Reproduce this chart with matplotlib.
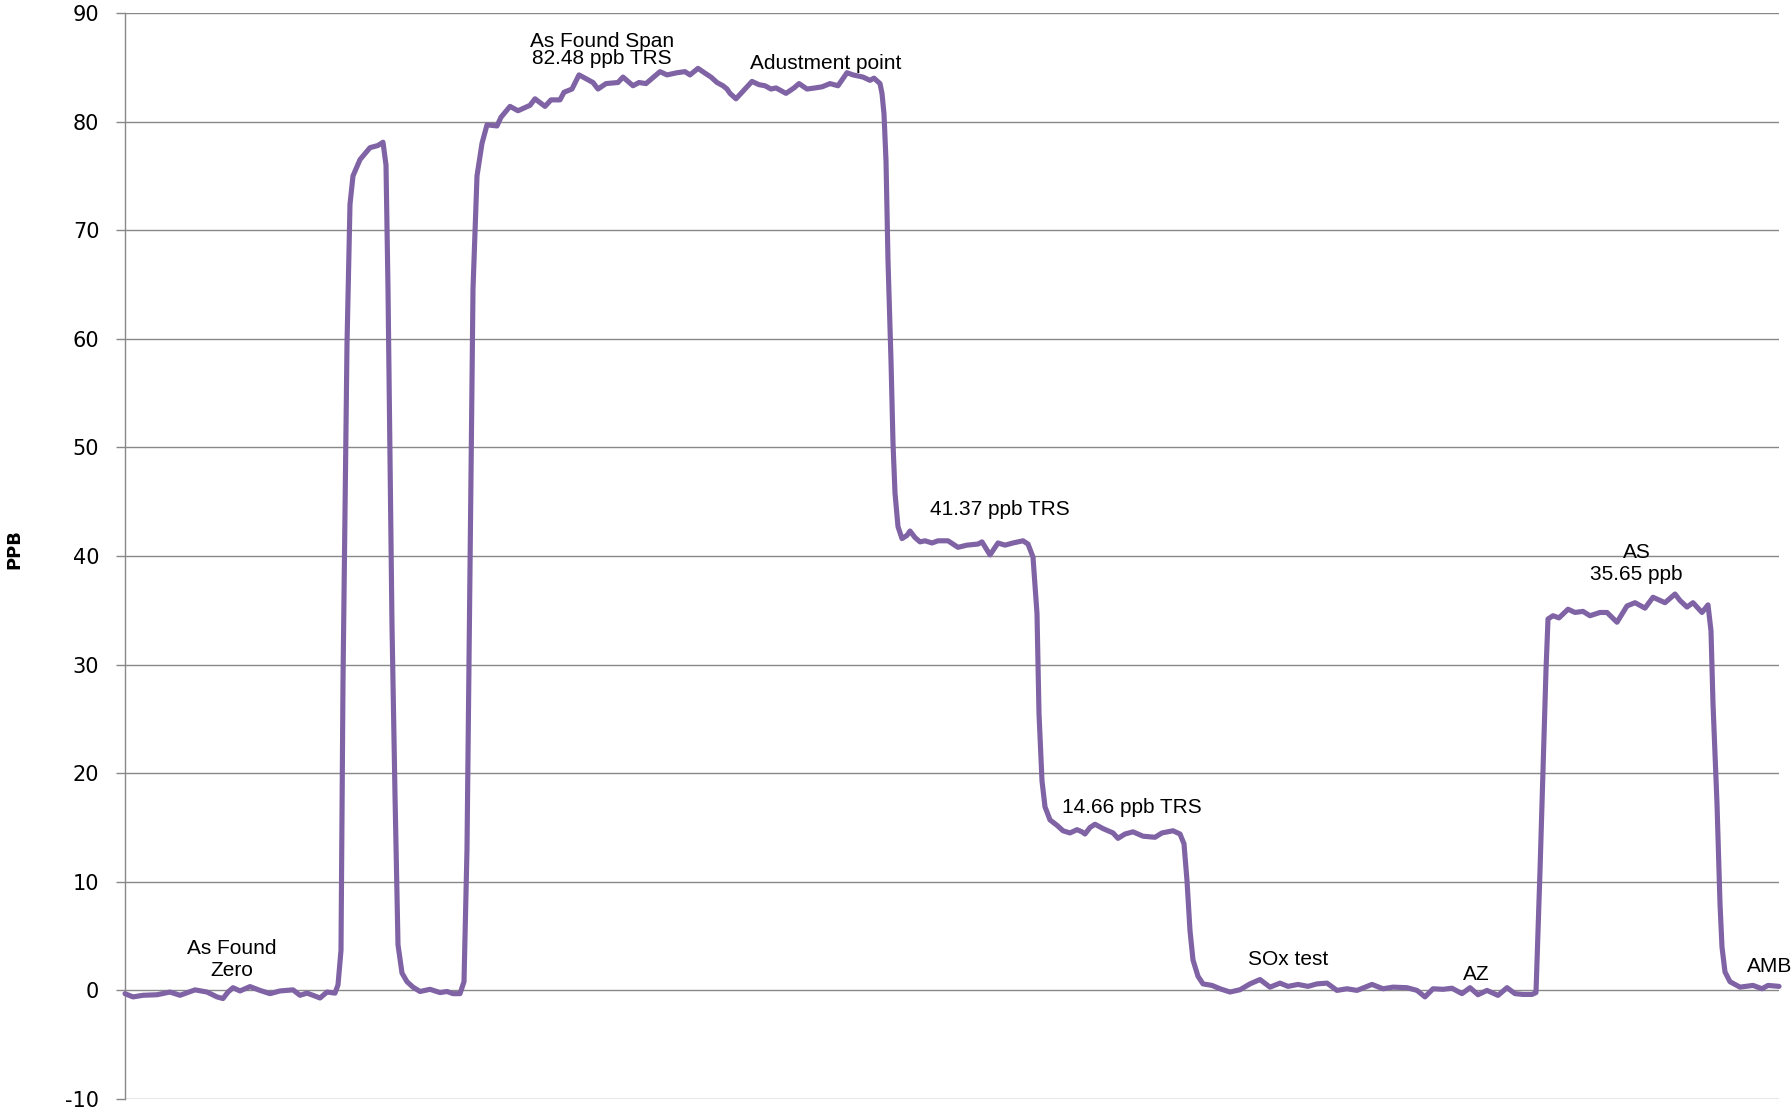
import matplotlib
matplotlib.use("Agg")
import matplotlib.pyplot as plt

plt.rcParams["axes.unicode_minus"] = False

# Time (arbitrary sample units) and concentration (ppb)
t = [0, 8, 18, 32, 45, 55, 70, 82, 92, 98, 103, 108, 115, 125, 135, 145, 155, 168, 175, 182,
     188, 195, 202, 210, 213, 216, 218, 222, 225, 228, 235, 245, 253, 258, 261, 263, 267, 270,
     273, 277, 282, 288, 295, 305, 315, 322, 328, 335, 339, 342, 345, 348, 352, 357, 362, 372,
     376, 385, 393, 405, 410, 420, 426, 435, 439, 447, 454, 460, 468, 473, 481, 493, 498, 508,
     514, 521, 535, 542, 552, 560, 565, 573, 581, 586, 592, 598, 602, 605, 611, 619, 627, 634,
     640, 646, 651, 661, 669, 674, 682, 690, 697, 705, 713, 722, 728, 738, 745, 749, 755, 757,
     759, 761, 763, 766, 768, 770, 773, 777, 782, 785, 790, 795, 800, 807, 813, 823, 833, 842,
     853, 857, 865, 873, 880, 888, 898, 903, 908, 912, 914, 917, 920, 925, 932, 938, 945, 952,
     957, 960, 965, 970, 978, 988, 993, 1000, 1008, 1018, 1030, 1037, 1048, 1055, 1059, 1062,
     1065, 1068, 1073, 1078, 1087, 1095, 1105, 1115, 1125, 1135, 1145, 1155, 1163, 1173, 1183,
     1192, 1202, 1212, 1222, 1232, 1247, 1258, 1268, 1282, 1292, 1300, 1308, 1318, 1327, 1337,
     1345, 1353, 1362, 1373, 1382, 1390, 1398, 1407, 1411, 1415, 1418, 1421, 1423, 1428, 1434,
     1443, 1450, 1458, 1465, 1475, 1482, 1492, 1502, 1510, 1520, 1528, 1540, 1550, 1555, 1562,
     1568, 1577, 1583, 1586, 1588, 1592, 1595, 1597, 1600, 1605, 1615, 1628, 1637, 1643, 1654]

ppb = [-0.3, -0.6, -0.45, -0.4, -0.15, -0.45, 0.05, -0.15, -0.6, -0.75, -0.15, 0.25, -0.05, 0.35,
       0.0, -0.3, -0.05, 0.05, -0.45, -0.25, -0.45, -0.7, -0.15, -0.25, 0.5, 3.7, 28.5, 59.5, 72.4,
       75.0, 76.5, 77.6, 77.8, 78.1, 76.0, 64.6, 33.6, 18.0, 4.2, 1.6, 0.8, 0.3, -0.1, 0.1, -0.2,
       -0.1, -0.3, -0.3, 0.8, 13.0, 38.9, 64.6, 75.0, 78.0, 79.7, 79.6, 80.4, 81.4, 81.0, 81.5,
       82.1, 81.4, 82.0, 82.0, 82.7, 83.0, 84.3, 84.0, 83.6, 83.0, 83.5, 83.6, 84.1, 83.3, 83.6,
       83.5, 84.6, 84.3, 84.5, 84.6, 84.3, 84.9, 84.4, 84.1, 83.6, 83.3, 83.0, 82.6, 82.1, 82.9,
       83.7, 83.4, 83.3, 83.0, 83.1, 82.6, 83.1, 83.5, 83.0, 83.1, 83.2, 83.5, 83.3, 84.5, 84.3,
       84.1, 83.8, 84.0, 83.5, 82.6, 80.7, 76.4, 67.2, 58.0, 50.4, 45.8, 42.7, 41.6, 41.9, 42.3,
       41.7, 41.3, 41.4, 41.2, 41.4, 41.4, 40.8, 41.0, 41.1, 41.3, 40.1, 41.2, 41.0, 41.2, 41.4,
       41.1, 39.9, 34.7, 25.5, 19.3, 16.9, 15.7, 15.2, 14.7, 14.5, 14.8, 14.6, 14.4, 15.0, 15.3,
       14.9, 14.5, 14.0, 14.4, 14.6, 14.2, 14.1, 14.5, 14.7, 14.4, 13.5, 10.1, 5.5, 2.8, 1.3, 0.6,
       0.46, 0.15, -0.15, 0.06, 0.6, 1.0, 0.3, 0.67, 0.37, 0.55, 0.37, 0.6, 0.67, 0.0, 0.15, 0.0,
       0.55, 0.15, 0.3, 0.25, 0.0, -0.6, 0.15, 0.1, 0.2, -0.3, 0.25, -0.4, 0.0, -0.46, 0.25, -0.3,
       -0.37, -0.37, -0.2, 11.0, 20.3, 29.5, 34.2, 34.5, 34.3, 35.1, 34.8, 34.9, 34.5, 34.8, 34.8,
       33.9, 35.4, 35.7, 35.2, 36.2, 35.7, 36.5, 35.9, 35.3, 35.7, 34.8, 35.5, 33.1, 26.4, 17.2,
       8.0, 4.0, 1.7, 0.8, 0.3, 0.46, 0.15, 0.46, 0.37]

y_ticks = [-10, 0, 10, 20, 30, 40, 50, 60, 70, 80, 90]

# Annotations
labels = ["As Found\nZero", "As Found Span\n82.48 ppb TRS", "Adustment point",
          "41.37 ppb TRS", "14.66 ppb TRS", "SOx test", "AZ", "AS\n35.65 ppb", "AMB"]
label_x = [107, 477, 700.8, 874.5, 1006.8, 1163.3, 1351.3, 1511.5, 1621.7]
label_y = [2.85, 86.6, 84.87, 43.74, 16.33, 2.36, 0.98, 39.3, 1.69]

LINE = "#7F63A4"
GRID = "#888888"

fig = plt.figure(figsize=(17.92, 11.12), dpi=100)
ax = fig.add_axes([125 / 1792, 1 - 1099 / 1112, (1779 - 125) / 1792, (1099 - 13) / 1112])

ax.plot(t, ppb, color=LINE, lw=3.7, solid_joinstyle="round", solid_capstyle="round",
        zorder=3, clip_on=False)

ax.set_xlim(t[0], t[-1])
ax.set_ylim(-10, 90)
ax.set_yticks(y_ticks)
ax.set_xticks([])
ax.grid(axis="y", color=GRID, lw=1.0)
ax.set_axisbelow(True)
for s in ["top", "right", "bottom"]:
    ax.spines[s].set_visible(False)
ax.spines["left"].set_color(GRID)
ax.spines["left"].set_linewidth(1.0)
ax.tick_params(axis="y", length=6.5, width=1.0, color=GRID, pad=12,
               labelsize=15, labelcolor="black")
for lab in ax.get_yticklabels():
    lab.set_fontfamily("DejaVu Sans")

fs = 15
font = "Liberation Sans"
ax.text(label_x[0], label_y[0], labels[0], ha="center", va="center", fontsize=fs,
        family=font, linespacing=1.2)
ax.text(label_x[1], label_y[1], labels[1], ha="center", va="center", fontsize=fs,
        family=font, linespacing=0.9)
for i in range(2, 7):
    ax.text(label_x[i], label_y[i], labels[i], ha="center", va="baseline", fontsize=fs,
            family=font)
ax.text(label_x[7], label_y[7], labels[7], ha="center", va="center", fontsize=fs,
        family=font, linespacing=1.25)
ax.text(label_x[8], label_y[8], labels[8], ha="left", va="baseline", fontsize=fs,
        family=font, clip_on=False)

fig.text(14 / 1792, 1 - 549 / 1112, "PPB", rotation=90, ha="center", va="center",
         fontsize=13, fontweight="bold", family="DejaVu Sans")

fig.savefig("out.png", dpi=100)
